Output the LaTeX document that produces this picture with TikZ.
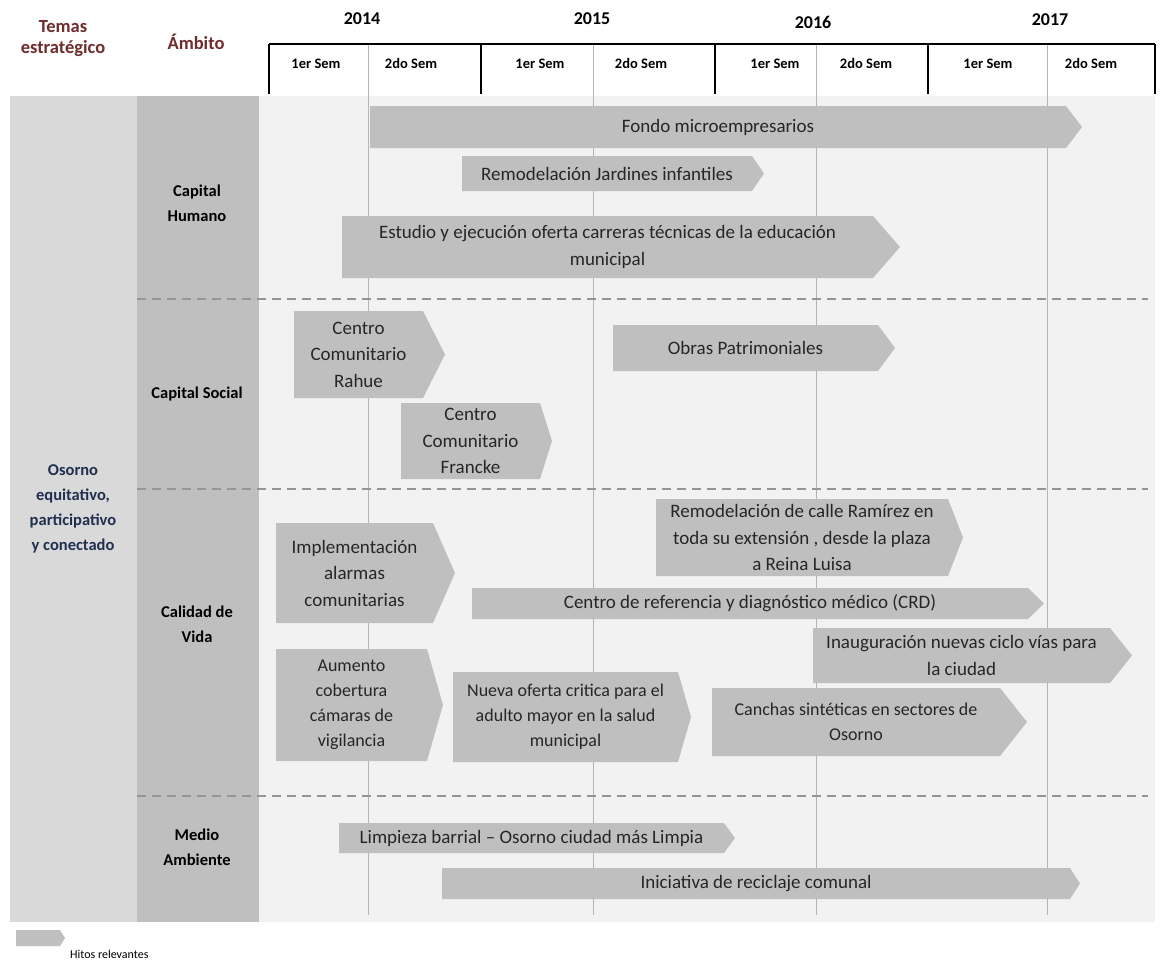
\documentclass[tikz,border=0pt]{standalone}
\usepackage{fontspec}
\setmainfont{Carlito}
\definecolor{maroon}{HTML}{6E2C2C}
\definecolor{navyx}{HTML}{1F2F4F}
\definecolor{colA}{HTML}{D9D9D9}
\definecolor{colB}{HTML}{BFBFBF}
\definecolor{chartbg}{HTML}{F2F2F2}
\definecolor{hitogray}{HTML}{BFBFBF}
\definecolor{dashgray}{HTML}{959595}
\definecolor{thingray}{HTML}{B4B4B4}
\tikzset{
  hitofill/.style={fill=hitogray},
  hitotext/.style={align=center, inner sep=0pt, text=black!85, font=\fontsize{19}{26.5}\selectfont},
  hitosmall/.style={hitotext, font=\fontsize{18}{25}\selectfont},
  semlabel/.style={font=\bfseries\fontsize{14.5}{16}\selectfont, inner sep=0pt, anchor=base},
  yearlabel/.style={font=\bfseries\fontsize{18}{20}\selectfont, inner sep=0pt, anchor=base},
  headlabel/.style={font=\bfseries\fontsize{18.5}{21}\selectfont, text=maroon, align=center, inner sep=0pt},
  ambitolabel/.style={font=\bfseries\fontsize{16.5}{25}\selectfont, align=center, inner sep=0pt},
  temalabel/.style={font=\bfseries\fontsize{16.5}{25}\selectfont, align=center, text=navyx, inner sep=0pt},
  thickline/.style={line width=2pt, black},
  thinline/.style={line width=0.8pt, thingray},
  sepdash/.style={line width=2.6pt, dashgray, dash pattern=on 9pt off 6pt}
}
% name, left, top, right, tip, bottom, style, text
\newcommand\hito[8]{%
  \fill[hitofill] (#2,#3) -- (#4,#3) -- (#5,{(#3+#6)/2}) -- (#4,#6) -- (#2,#6) -- cycle;
  \node[#7] (#1) at ({(#2+#4)/2},{(#3+#6)/2}) {#8};
}
\begin{document}
\begin{tikzpicture}[x=1pt,y=-1pt]
\useasboundingbox (0,0) rectangle (1160,962);
\fill[white] (0,0) rectangle (1160,962);
% background columns
\fill[colA] (10,96) rectangle (137,922);
\fill[colB] (137,96) rectangle (259,922);
\fill[chartbg] (259,96) rectangle (1155,922);
% thin semester lines
\foreach \xx/\nm in {368/a,593/b,816/c,1047/d}{
  \coordinate (ts\nm) at (\xx,44);
  \coordinate (te\nm) at (\xx,915);
  \draw[thinline] (ts\nm) -- (te\nm);
}
% header frame
\coordinate (hl) at (269,44);
\coordinate (hr) at (1155,44);
\draw[thickline] (hl) -- (hr);
\foreach \xx/\nm in {269/a,481/b,715/c,928/d,1155/e}{
  \coordinate (vs\nm) at (\xx,44);
  \coordinate (ve\nm) at (\xx,94);
  \draw[thickline] (vs\nm) -- (ve\nm);
}
% header texts
\node[headlabel] (temas) at (63,39) {Temas\\estratégico};
\node[headlabel] (ambito) at (196,42) {Ámbito};
\node[yearlabel] (y14) at (362,24) {2014};
\node[yearlabel] (y15) at (592,24) {2015};
\node[yearlabel] (y16) at (813,28) {2016};
\node[yearlabel] (y17) at (1050,25) {2017};
\node[semlabel] (s1) at (316,68) {1er Sem};
\node[semlabel] (s2) at (411,68) {2do Sem};
\node[semlabel] (s3) at (540,68) {1er Sem};
\node[semlabel] (s4) at (641,68) {2do Sem};
\node[semlabel] (s5) at (775,68) {1er Sem};
\node[semlabel] (s6) at (866,68) {2do Sem};
\node[semlabel] (s7) at (988,68) {1er Sem};
\node[semlabel] (s8) at (1091,68) {2do Sem};
% dashed separators
\foreach \yy/\nm in {299/a,489/b,796/c}{
  \coordinate (ds\nm) at (137,\yy);
  \coordinate (de\nm) at (1148,\yy);
  \draw[sepdash] (ds\nm) -- (de\nm);
}
% left labels
\node[temalabel] (tema) at (73,509) {Osorno\\equitativo,\\participativo\\y conectado};
\node[ambitolabel] (amb1) at (197,203) {Capital\\Humano};
\node[ambitolabel] (amb2) at (197,394) {Capital Social};
\node[ambitolabel] (amb3) at (197,624) {Calidad de\\Vida};
\node[ambitolabel] (amb4) at (197,847) {Medio\\Ambiente};
% hitos
\hito{h1}{370}{106}{1066}{1082}{148}{hitotext}{Fondo microempresarios}
\hito{h2}{462}{156}{752}{764}{191}{hitotext}{Remodelación Jardines infantiles}
\hito{h3}{342}{216}{873}{900}{278}{hitotext}{Estudio y ejecución oferta carreras técnicas de la educación\\municipal}
\hito{h4}{294}{311}{423}{445}{398}{hitotext}{Centro\\Comunitario\\Rahue}
\hito{h5}{401}{403}{540}{552}{479}{hitotext}{Centro\\Comunitario\\Francke}
\hito{h6}{613}{325}{878}{895}{371}{hitotext}{Obras Patrimoniales}
\hito{h7}{656}{499}{948}{963}{576}{hitotext}{Remodelación de calle Ramírez en\\toda su extensión , desde la plaza\\a Reina Luisa}
\hito{h8}{276}{523}{433}{455}{623}{hitotext}{Implementación\\alarmas\\comunitarias}
\hito{h9}{472}{588}{1028}{1044}{619}{hitotext}{Centro de referencia y diagnóstico médico (CRD)}
\hito{h10}{813}{628}{1110}{1132}{683}{hitotext}{Inauguración nuevas ciclo vías para\\la ciudad}
\hito{h11}{276}{649}{427}{443}{761}{hitosmall}{Aumento\\cobertura\\cámaras de\\vigilancia}
\hito{h12}{453}{672}{678}{691}{762}{hitosmall}{Nueva oferta critica para el\\adulto mayor en la salud\\municipal}
\hito{h13}{712}{688}{1000}{1027}{756}{hitosmall}{Canchas sintéticas en sectores de\\Osorno}
\hito{h14}{339}{823}{724}{735}{853}{hitotext}{Limpieza barrial – Osorno ciudad más Limpia}
\hito{h15}{442}{868}{1070}{1080}{899}{hitotext}{Iniciativa de reciclaje comunal}
% legend
\fill[hitofill] (16,930) -- (60,930) -- (65,938) -- (60,946) -- (16,946) -- cycle;
\node[anchor=west, inner sep=0pt, font=\fontsize{12}{13}\selectfont] (legend) at (70,954) {Hitos relevantes};
\end{tikzpicture}
\end{document}
